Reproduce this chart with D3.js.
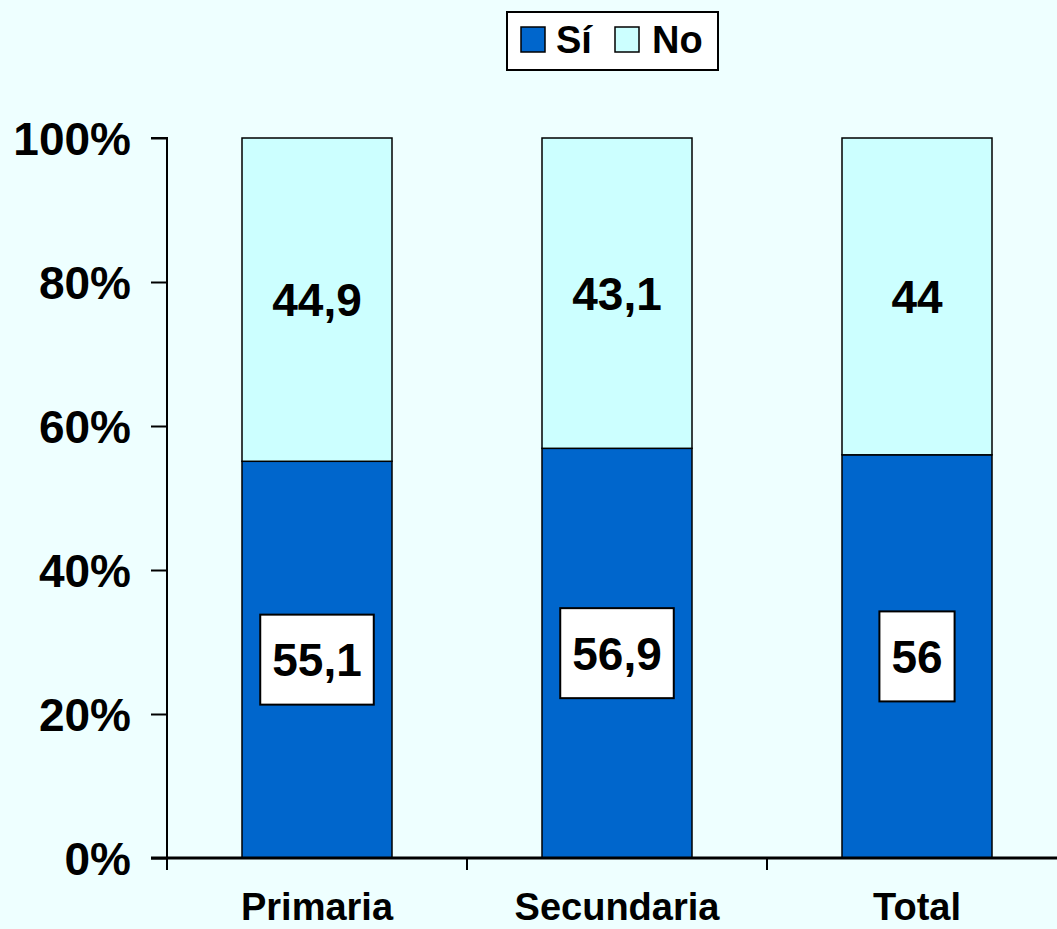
<!DOCTYPE html>
<html><head><meta charset="utf-8">
<script src="https://cdn.jsdelivr.net/npm/d3@7"></script>
<style>html,body{margin:0;padding:0;background:#EEFFFF;}svg{display:block;}</style>
</head><body>
<svg id="chart" width="1057" height="929"></svg>
<script>
const categories = ["Primaria", "Secundaria", "Total"];
const siValues = [55.1, 56.9, 56];
const noValues = [44.9, 43.1, 44];
const siLabels = ["55,1", "56,9", "56"];
const noLabels = ["44,9", "43,1", "44"];
const yTicks = [0, 20, 40, 60, 80, 100];
const seriesNames = ["Sí", "No"];
const seriesColors = ["#0066CC", "#CCFFFF"];

const svg = d3.select("#chart");
const W = 1057, H = 929;
svg.append("rect").attr("width", W).attr("height", H).attr("fill", "#EEFFFF");

const x0 = 167, yTop = 138, yBot = 858, bandW = 300;
const x = d3.scaleBand().domain(categories).range([x0, x0 + bandW * categories.length]).paddingInner(0).paddingOuter(0);
const y = d3.scaleLinear().domain([0, 100]).range([yBot, yTop]);
const barW = 150;
const font = "'Liberation Sans', Arial, sans-serif";

// bars
const g = svg.append("g");
categories.forEach((c, i) => {
  const bx = x(c) + (x.bandwidth() - barW) / 2;
  g.append("rect").attr("x", bx).attr("y", y(siValues[i])).attr("width", barW)
    .attr("height", y(0) - y(siValues[i])).attr("fill", seriesColors[0]).attr("stroke", "#000").attr("stroke-width", 1.5);
  g.append("rect").attr("x", bx).attr("y", y(100)).attr("width", barW)
    .attr("height", y(siValues[i]) - y(100)).attr("fill", seriesColors[1]).attr("stroke", "#000").attr("stroke-width", 1.5);
});

// y axis
const yAxis = d3.axisLeft(y).tickValues(yTicks).tickFormat(d => d + "%").tickSize(16).tickPadding(20);
const ya = svg.append("g").attr("transform", `translate(${x0},0)`).call(yAxis);
ya.select(".domain").attr("stroke", "#000").attr("stroke-width", 2).attr("d", `M-16,${yTop}H0V${yBot}H-16`);
ya.selectAll(".tick line").attr("stroke", "#000").attr("stroke-width", 2);
ya.selectAll(".tick text").attr("font-family", font).attr("font-weight", "bold").attr("font-size", 46).attr("fill", "#000").attr("dy", "0.36em");

// x axis
const xAxis = d3.axisBottom(x).tickSize(0).tickPadding(0);
const xa = svg.append("g").attr("transform", `translate(0,${yBot})`).call(xAxis);
xa.select(".domain").attr("stroke", "#000").attr("stroke-width", 3).attr("d", `M${x0 - 16},0H${W + 20}`);
xa.selectAll(".tick text").attr("font-family", font).attr("font-weight", "bold").attr("font-size", 38).attr("fill", "#000").attr("y", 62).attr("dy", 0);
// category separator ticks
const sepTicks = [0, 1, 2, 3].map(i => x0 + i * x.step());
xa.selectAll("line.sep").data(sepTicks).enter().append("line").attr("class", "sep")
  .attr("x1", d => d).attr("x2", d => d).attr("y1", 0).attr("y2", 12).attr("stroke", "#000").attr("stroke-width", 2);

// No labels
categories.forEach((c, i) => {
  const cx = x(c) + x.bandwidth() / 2;
  const cy = (y(100) + y(siValues[i])) / 2;
  svg.append("text").attr("x", cx).attr("y", cy).attr("dy", "0.36em").attr("text-anchor", "middle")
    .attr("font-family", font).attr("font-weight", "bold").attr("font-size", 46).text(noLabels[i]);
});
// Sí labels with white boxes
categories.forEach((c, i) => {
  const cx = x(c) + x.bandwidth() / 2;
  const cy = (y(0) + y(siValues[i])) / 2;
  const t = svg.append("text").attr("x", cx).attr("y", cy).attr("dy", "0.36em").attr("text-anchor", "middle")
    .attr("font-family", font).attr("font-weight", "bold").attr("font-size", 46).text(siLabels[i]);
  const bb = t.node().getBBox();
  svg.insert("rect", () => t.node()).attr("x", cx - bb.width / 2 - 12).attr("y", cy - 45).attr("width", bb.width + 24).attr("height", 90)
    .attr("fill", "#fff").attr("stroke", "#000").attr("stroke-width", 2);
});

// legend
const lg = svg.append("g");
lg.append("rect").attr("x", 507).attr("y", 12).attr("width", 211).attr("height", 58).attr("fill", "#fff").attr("stroke", "#000").attr("stroke-width", 2);
const legX = [521, 615];
const txtX = [556, 652];
seriesNames.forEach((s, i) => {
  lg.append("rect").attr("x", legX[i]).attr("y", 27).attr("width", 24).attr("height", 25).attr("fill", seriesColors[i]).attr("stroke", "#000").attr("stroke-width", 1.5);
  lg.append("text").attr("x", txtX[i]).attr("y", 53).attr("font-family", font).attr("font-weight", "bold").attr("font-size", 38).text(s);
});
</script>
</body></html>
